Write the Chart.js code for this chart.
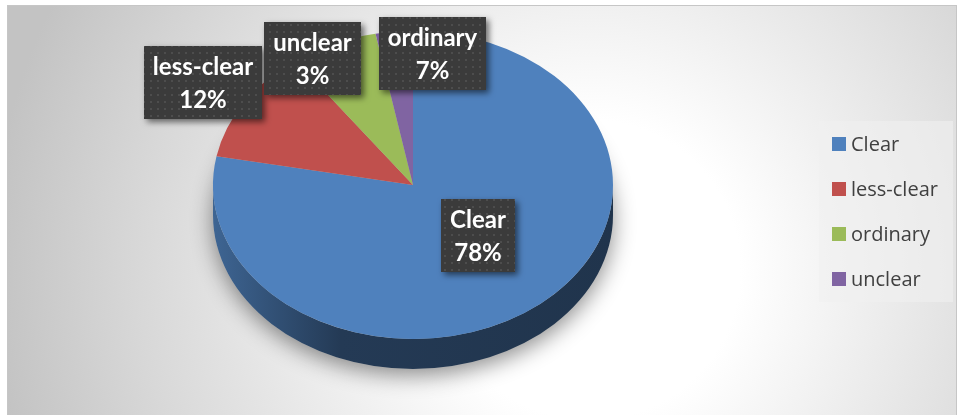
<!DOCTYPE html>
<html>
<head>
<meta charset="utf-8">
<script src="https://cdn.jsdelivr.net/npm/chart.js@4.4.1/dist/chart.umd.min.js"></script>
<style>
  html, body { margin: 0; padding: 0; background: #fff; }
  #wrap { width: 957px; height: 415px; position: relative; }
</style>
</head>
<body>
<div id="wrap"><canvas id="pie"></canvas></div>
<script>
// data
const categories = ['Clear', 'less-clear', 'ordinary', 'unclear']
const shares = [78, 12, 7, 3]
const sliceColors = ['#4f81bd', '#c0504d', '#9bbb59', '#8064a2']

// where each label box sits: shift from slice mid-angle (deg) and radius factor
const labelShift = [-5, 0, 30, -26]
const labelRadius = [0.46, 1.245, 0.86, 0.965]

// 3d look
const ELL = { cx: 413, cy: 185, rx: 200, ry: 154, depth: 30 }

function shade(hex, f) {
    const n = parseInt(hex.slice(1), 16)
    const r = Math.round(((n >> 16) & 255) * f)
    const g = Math.round(((n >> 8) & 255) * f)
    const b = Math.round((n & 255) * f)
    return `rgb(${r},${g},${b})`
}

function dotPattern(ctx) {
    const c = document.createElement('canvas')
    c.width = 7; c.height = 7
    const p = c.getContext('2d')
    p.fillStyle = '#3b3b3b'
    p.fillRect(0, 0, 7, 7)
    p.fillStyle = '#4d4d4d'
    p.fillRect(3, 3, 2, 2)
    return ctx.createPattern(c, 'repeat')
}

const pie3d = {
    id: 'pie3d',
    beforeDraw(chart) {
        const ctx = chart.ctx
        const w = chart.width, h = chart.height
        ctx.save()
        ctx.fillStyle = '#fff'
        ctx.fillRect(0, 0, w, h)
        const g = ctx.createRadialGradient(590, 270, 0, 590, 270, 600)
        g.addColorStop(0, '#ffffff')
        g.addColorStop(0.25, '#ffffff')
        g.addColorStop(0.75, '#d8d8d8')
        g.addColorStop(1, '#c3c3c3')
        ctx.fillStyle = g
        ctx.fillRect(7, 5, w - 8, h - 5)
        ctx.strokeStyle = '#c6c6c6'
        ctx.lineWidth = 1
        ctx.strokeRect(7.5, 5.5, w - 8, h - 5)
        // legend panel
        ctx.fillStyle = 'rgba(240,240,240,0.6)'
        ctx.fillRect(819, 121, 134, 181)
        ctx.restore()
    },
    beforeDatasetsDraw(chart) {
        const ctx = chart.ctx
        const arcs = chart.getDatasetMeta(0).data
        const { cx, cy, rx, ry, depth } = ELL
        const a0 = arcs[0]
        // shadow under the pie
        ctx.save()
        ctx.shadowColor = 'rgba(0,0,0,0.45)'
        ctx.shadowBlur = 22
        ctx.shadowOffsetY = 6
        ctx.fillStyle = '#bbb'
        ctx.beginPath()
        ctx.ellipse(cx, cy + depth, rx, ry, 0, 0, Math.PI * 2)
        ctx.fill()
        ctx.restore()
        // side walls (front half only)
        arcs.forEach((arc, i) => {
            const s = Math.max(arc.startAngle, 0)
            const e = Math.min(arc.endAngle, Math.PI)
            if (e <= s) return
            const col = sliceColors[i]
            const g = ctx.createLinearGradient(cx - rx, 0, cx + rx, 0)
            g.addColorStop(0, shade(col, 0.78))
            g.addColorStop(0.32, shade(col, 0.45))
            g.addColorStop(1, shade(col, 0.4))
            ctx.save()
            ctx.fillStyle = g
            ctx.beginPath()
            ctx.ellipse(cx, cy, rx, ry, 0, s, e, false)
            ctx.ellipse(cx, cy + depth, rx, ry, 0, e, s, true)
            ctx.closePath()
            ctx.fill()
            ctx.restore()
        })
        // squash the flat pie into the top face
        ctx.save()
        ctx.translate(cx, cy)
        ctx.scale(rx / a0.outerRadius, ry / a0.outerRadius)
        ctx.translate(-a0.x, -a0.y)
    },
    afterDatasetsDraw(chart) {
        const ctx = chart.ctx
        ctx.restore()
        const arcs = chart.getDatasetMeta(0).data
        const { cx, cy, rx, ry } = ELL
        const total = shares.reduce((a, b) => a + b, 0)
        const pat = dotPattern(ctx)
        ctx.save()
        ctx.font = 'bold 24px Lato'
        arcs.forEach((arc, i) => {
            const mid = (arc.startAngle + arc.endAngle) / 2 + labelShift[i] * Math.PI / 180
            const lx = cx + Math.cos(mid) * rx * labelRadius[i]
            const ly = cy + Math.sin(mid) * ry * labelRadius[i]
            const lines = [categories[i], Math.round(shares[i] / total * 100) + '%']
            const tw = Math.max(...lines.map(t => ctx.measureText(t).width))
            const bw = Math.round(tw + 18), bh = 73
            const bx = Math.round(lx - bw / 2), by = Math.round(ly - bh / 2)
            ctx.save()
            ctx.shadowColor = 'rgba(0,0,0,0.55)'
            ctx.shadowBlur = 6
            ctx.shadowOffsetX = 3
            ctx.shadowOffsetY = 3
            ctx.fillStyle = pat
            ctx.fillRect(bx, by, bw, bh)
            ctx.restore()
            ctx.fillStyle = '#ffffff'
            ctx.textAlign = 'center'
            ctx.textBaseline = 'middle'
            ctx.fillText(lines[0], bx + bw / 2, by + 21)
            ctx.fillText(lines[1], bx + bw / 2, by + 54)
        })
        ctx.restore()
    },
    afterDraw(chart) {
        const ctx = chart.ctx
        ctx.save()
        ctx.font = '20px "Open Sans"'
        ctx.textBaseline = 'middle'
        categories.forEach((c, i) => {
            const y = 144 + i * 45
            ctx.fillStyle = sliceColors[i]
            ctx.fillRect(832, y - 7, 14, 14)
            ctx.fillStyle = '#404040'
            ctx.fillText(c, 851, y + 1)
        })
        ctx.restore()
    }
}

new Chart(document.getElementById('pie'), {
    type: 'pie',
    data: {
        labels: categories,
        datasets: [{
            data: shares,
            backgroundColor: sliceColors,
            borderWidth: 0,
            clip: false
        }]
    },
    options: {
        responsive: true,
        maintainAspectRatio: false,
        animation: false,
        layout: { padding: { left: 258, right: 389, top: 30, bottom: 75 } },
        plugins: {
            legend: { display: false },
            tooltip: { enabled: false }
        }
    },
    plugins: [pie3d]
})
</script>
</body>
</html>
